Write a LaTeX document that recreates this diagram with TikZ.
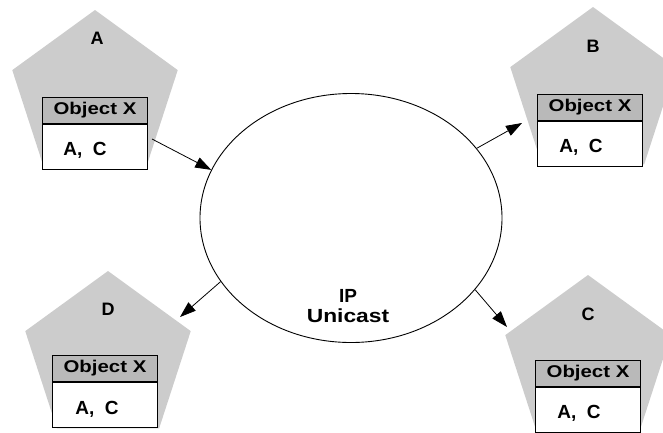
\documentclass[tikz,border=0pt]{standalone}
\usepackage{fontspec}
\setmainfont{Liberation Sans}
\usetikzlibrary{shapes.geometric,arrows.meta}
\begin{document}
\begin{tikzpicture}[x=1pt,y=-1pt,
  penta/.style={regular polygon, regular polygon sides=5, minimum size=174pt, inner sep=0pt, fill=gray!40, draw=none},
  hdr/.style={draw=black, line width=1pt, fill=gray!55, minimum width=105pt, minimum height=26pt, inner sep=0pt, anchor=north, font=\bfseries\fontsize{17}{17}\selectfont},
  body/.style={draw=black, line width=1pt, fill=white, minimum width=105pt, minimum height=45pt, inner sep=0pt, anchor=north},
  vals/.style={font=\bfseries\fontsize{19}{19}\selectfont},
  lbl/.style={font=\bfseries\fontsize{18}{18}\selectfont},
  conn/.style={line width=0.8pt, -{Triangle[length=16pt,width=11pt]}}
]
\useasboundingbox (0,0) rectangle (663,432);
% pentagons
\node[penta] (pA) at (95,97) {};
\node[penta] (pB) at (593,94) {};
\node[penta] (pD) at (108,358) {};
\node[penta] (pC) at (588,362) {};
% labels
\node[lbl] (lA) at (97,38) {A};
\node[lbl] (lB) at (593,46) {B};
\node[lbl] (lD) at (108,309) {D};
\node[lbl] (lC) at (588,314) {C};
% boxes
\node[hdr] (hA) at (95,97) {\scalebox{1.2}[1]{Object X}};
\node[body] (bA) at (hA.south) {};
\node[vals] (vA) at (85,150) {A,\ \ C};
\node[hdr] (hB) at (590,94) {\scalebox{1.2}[1]{Object X}};
\node[body] (bB) at (hB.south) {};
\node[vals] (vB) at (581,147) {A,\ \ C};
\node[hdr] (hD) at (105,355) {\scalebox{1.2}[1]{Object X}};
\node[body] (bD) at (hD.south) {};
\node[vals] (vD) at (97,409) {A,\ \ C};
\node[hdr] (hC) at (588,360) {\scalebox{1.2}[1]{Object X}};
\node[body] (bC) at (hC.south) {};
\node[vals] (vC) at (579,413) {A,\ \ C};
% ellipse
\node[ellipse, draw=black, line width=0.9pt, minimum width=302pt, minimum height=249pt, inner sep=0pt] (net) at (351,218) {};
\node[font=\bfseries\fontsize{19}{19}\selectfont, align=center] (ip) at (348,306) {IP\\[1pt]\scalebox{1.2}[1]{Unicast}};
% connector end points
\coordinate (a0) at (152,139);
\coordinate (b1) at (522,123);
\coordinate (d1) at (180,317);
\coordinate (c1) at (507,327);
\draw[conn] (a0) -- (net.161);
\draw[conn] (net.29) -- (b1);
\draw[conn] (net.206) -- (d1);
\draw[conn] (net.330) -- (c1);
\end{tikzpicture}
\end{document}
